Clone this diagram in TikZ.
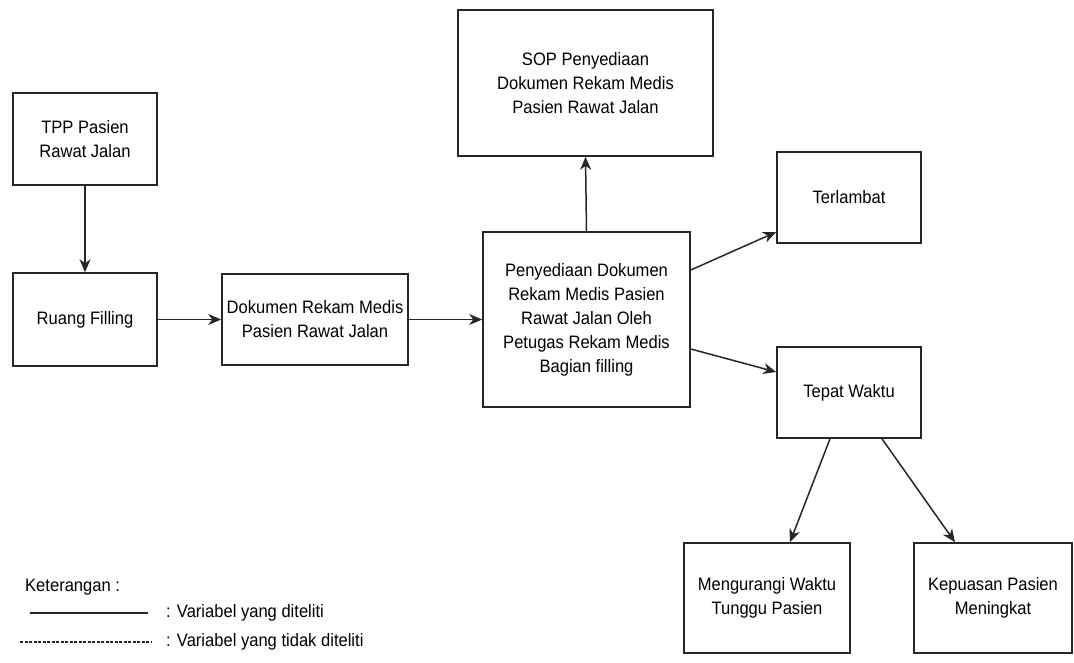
\documentclass[tikz,border=0pt]{standalone}
\usepackage{fontspec}
\setmainfont{Liberation Sans}[FakeStretch=0.92]
\usetikzlibrary{arrows.meta}
\begin{document}
\begin{tikzpicture}[x=1pt,y=-1pt,
  txt/.style={font=\fontsize{18}{24}\selectfont},
  box/.style={txt,draw=black!85,line width=1.6pt,align=center,inner sep=2pt},
  arr/.style={draw=black!85,line width=1.5pt,-{Stealth[length=13pt,width=11pt,inset=4pt]}},
  legline/.style={draw=black!85,line width=1.3pt}]
\useasboundingbox (0,0) rectangle (1074,662);

\node[box,minimum width=144pt,minimum height=92pt] (tpp) at (85,139) {TPP Pasien\\Rawat Jalan};
\node[box,minimum width=144pt,minimum height=93pt] (ruang) at (85,319.5) {Ruang Filling};
\node[box,minimum width=186pt,minimum height=91pt] (dok) at (315,319.5) {Dokumen Rekam Medis\\Pasien Rawat Jalan};
\node[box,minimum width=207pt,minimum height=175pt] (pen) at (586.5,319.5) {Penyediaan Dokumen\\Rekam Medis Pasien\\Rawat Jalan Oleh\\Petugas Rekam Medis\\Bagian filling};
\node[box,minimum width=255pt,minimum height=146pt] (sop) at (585.5,83) {SOP Penyediaan\\Dokumen Rekam Medis\\Pasien Rawat Jalan};
\node[box,minimum width=144pt,minimum height=91pt] (ter) at (849,197.5) {Terlambat};
\node[box,minimum width=144pt,minimum height=91pt] (tep) at (849,392.5) {Tepat Waktu};
\node[box,minimum width=166pt,minimum height=110pt] (men) at (767,598) {Mengurangi Waktu\\Tunggu Pasien};
\node[box,minimum width=158pt,minimum height=110pt] (kep) at (993,598) {Kepuasan Pasien\\Meningkat};

\draw[arr] (tpp) -- (ruang);
\draw[arr] (ruang) -- (dok);
\draw[arr] (dok) -- (pen);
\draw[arr] (pen.north) -- (sop.south);
\draw[arr] ([yshift=49.5pt]pen.east) -- ([yshift=-34.5pt]ter.west);
\draw[arr] ([yshift=-29.5pt]pen.east) -- ([yshift=20.5pt]tep.west);
\draw[arr] ([xshift=-19pt]tep.south) -- ([xshift=23pt]men.north);
\draw[arr] ([xshift=33pt]tep.south) -- ([xshift=-38pt]kep.north);

\node[txt,anchor=west,inner sep=0pt] (ket) at (25,587) {Keterangan :};
\coordinate (s1) at (30,613);
\coordinate (s2) at (148,613);
\coordinate (d1) at (20,642);
\coordinate (d2) at (152,642);
\draw[legline] (s1) -- (s2);
\draw[legline,dash pattern=on 3pt off 1.5pt] (d1) -- (d2);
\node[txt,anchor=west,inner sep=0pt] (l1) at (166,613) {: Variabel yang diteliti};
\node[txt,anchor=west,inner sep=0pt] (l2) at (166,642) {: Variabel yang tidak diteliti};
\end{tikzpicture}
\end{document}
